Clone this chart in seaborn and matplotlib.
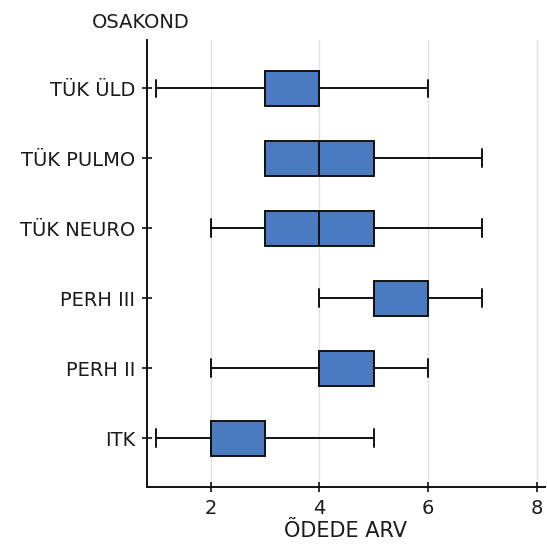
import numpy as np
import pandas as pd
import matplotlib
matplotlib.use("Agg")
import matplotlib.pyplot as plt
import seaborn as sns

categories = ["TÜK ÜLD", "TÜK PULMO", "TÜK NEURO", "PERH III", "PERH II", "ITK"]
# five-number summaries: min, Q1, median, Q3, max
mins    = [1, 3, 2, 4, 2, 1]
q1s     = [3, 3, 3, 5, 4, 2]
medians = [4, 4, 4, 5, 4, 2]
q3s     = [4, 5, 5, 6, 5, 3]
maxs    = [6, 7, 7, 7, 6, 5]
xticks = [2, 4, 6, 8]

rows = []
for c, a, b, m, d, e in zip(categories, mins, q1s, medians, q3s, maxs):
    for v in (a, b, m, d, e):
        rows.append({"OSAKOND": c, "ÕDEDE ARV": v})
df = pd.DataFrame(rows)

sns.set_theme(style="white")
plt.rcParams["font.family"] = ["DejaVu Sans"]
txt = "#1a1a1a"

fig = plt.figure(figsize=(5.47, 5.46), dpi=100)
ax = fig.add_axes([147/547, 1 - 487/546, (545-147)/547, (487-40)/546])

sns.boxplot(data=df, x="ÕDEDE ARV", y="OSAKOND", order=categories, orient="h",
            whis=(0, 100), width=0.5, color="#4a7bc0", saturation=1,
            linecolor="#111111", linewidth=1.4, showcaps=True, ax=ax,
            capprops={"linewidth": 1.4}, whiskerprops={"linewidth": 1.4},
            medianprops={"linewidth": 1.4, "color": "#111111"})

ax.set_xlim(0.83, 8.15)
ax.set_ylim(5.7, -0.69)
ax.set_xticks(xticks)
ax.set_xticklabels([str(t) for t in xticks], fontsize=14, color=txt)
ax.tick_params(axis="y", labelsize=14, labelcolor=txt)
ax.xaxis.grid(True, color="#e2e2e2", linewidth=1)
ax.yaxis.grid(False)
ax.set_axisbelow(True)
for s in ["top", "right"]:
    ax.spines[s].set_visible(False)
for s in ["left", "bottom"]:
    ax.spines[s].set_color("#111111")
    ax.spines[s].set_linewidth(1.4)
ax.tick_params(axis="both", which="major", bottom=True, left=True, direction="inout",
               length=7, width=1.2, color="#111111", pad=5)
ax.set_ylabel("")
ax.set_xlabel("ÕDEDE ARV", fontsize=15, color=txt, labelpad=2)
fig.text(92/547, 1 - 22/546, "OSAKOND", fontsize=14, color=txt, ha="left", va="center")

fig.savefig("out.png", dpi=100)
